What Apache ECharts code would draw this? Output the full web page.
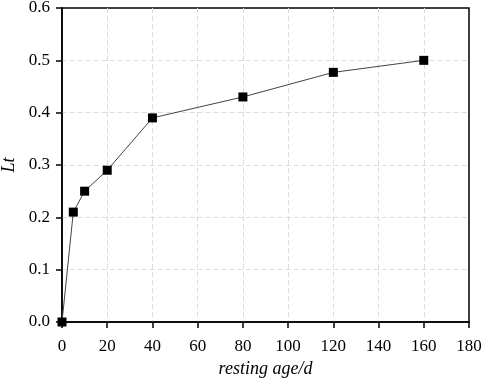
<!DOCTYPE html>
<html>
<head>
<meta charset="utf-8">
<script src="https://cdn.jsdelivr.net/npm/echarts@6/dist/echarts.min.js"></script>
<style>html,body{margin:0;padding:0;background:#fff;}#c{width:484px;height:379px;}</style>
</head>
<body>
<div id="c"></div>
<script>
const restingAge = [0, 5, 10, 20, 40, 80, 120, 160];
const ltValues = [0, 0.21, 0.25, 0.29, 0.39, 0.43, 0.477, 0.50];
const xLabel = 'resting age/d';
const yLabel = 'Lt';

const chart = echarts.init(document.getElementById('c'), null, {renderer: 'canvas'});
const font = 'Liberation Serif';
chart.setOption({
  backgroundColor: '#fff',
  animation: false,
  grid: {left: 62, right: 15, top: 8, bottom: 57, containLabel: false, outerBoundsMode: 'none',
         show: true, borderColor: '#000', borderWidth: 1.5, backgroundColor: 'transparent'},
  xAxis: {
    type: 'value', min: 0, max: 180, interval: 20,
    name: xLabel, nameLocation: 'middle', nameGap: 36,
    nameTextStyle: {fontFamily: font, fontStyle: 'italic', fontSize: 18, color: '#000'},
    axisLine: {show: true, onZero: false, lineStyle: {color: '#000', width: 1.5}},
    axisTick: {show: true, inside: false, length: 6, lineStyle: {color: '#000', width: 1.5}},
    axisLabel: {fontFamily: font, fontSize: 17, color: '#000', margin: 16},
    splitLine: {show: true, showMinLine: false, showMaxLine: false, lineStyle: {color: '#dcdcdc', type: [5, 3], width: 1}}
  },
  yAxis: {
    type: 'value', min: 0, max: 0.6, interval: 0.1,
    name: yLabel, nameLocation: 'middle', nameGap: 44,
    nameTextStyle: {fontFamily: font, fontStyle: 'italic', fontSize: 18, color: '#000'},
    axisLine: {show: true, onZero: false, lineStyle: {color: '#000', width: 1.5}},
    axisTick: {show: true, inside: false, length: 6, lineStyle: {color: '#000', width: 1.5}},
    axisLabel: {fontFamily: font, fontSize: 17, color: '#000', margin: 12, formatter: v => v.toFixed(1)},
    splitLine: {show: true, showMinLine: false, showMaxLine: false, lineStyle: {color: '#dcdcdc', type: [5, 3], width: 1}}
  },
  series: [{
    type: 'line',
    data: restingAge.map((x, i) => [x, ltValues[i]]),
    symbol: 'rect', symbolSize: 9,
    itemStyle: {color: '#000'},
    lineStyle: {color: '#444', width: 1},
    clip: false
  }]
});
</script>
</body>
</html>
